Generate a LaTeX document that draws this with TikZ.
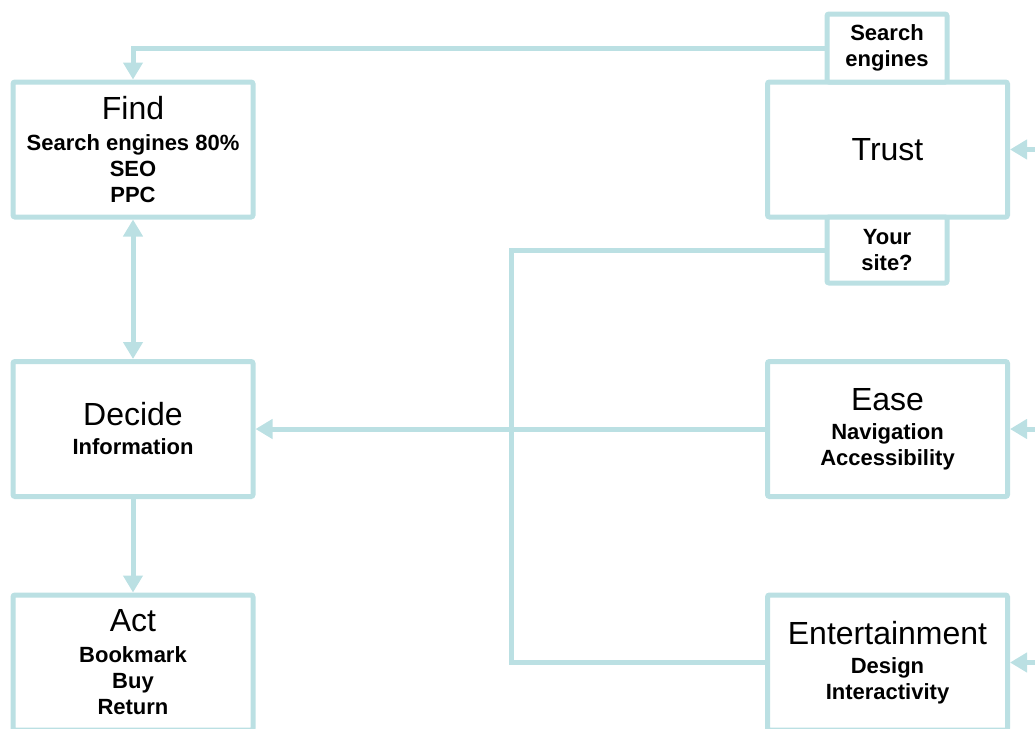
\documentclass[tikz,border=0pt]{standalone}
\usepackage{fontspec}
\setmainfont{Liberation Sans}
\usetikzlibrary{arrows.meta}
\definecolor{boxline}{HTML}{BBE0E3}
\newcommand\ttlfont{\fontsize{32}{36}\selectfont\mdseries}
\newcommand\subfont{\fontsize{22}{26}\selectfont\bfseries}
\tikzset{
  box/.style={draw=boxline, line width=5pt, fill=white, rounded corners=2pt,
    minimum width=240pt, minimum height=135pt, align=center, inner sep=0pt,
    font=\subfont, text=black},
  tabbox/.style={box, minimum width=120pt},
  conn/.style={draw=boxline, line width=5pt, line join=miter},
  arr/.style={conn, -{Triangle[width=19pt,length=17pt]}},
  dblarr/.style={conn, {Triangle[width=19pt,length=17pt]}-{Triangle[width=19pt,length=17pt]}},
}
\begin{document}
\begin{tikzpicture}[x=1pt,y=1pt]
\useasboundingbox (0,0) rectangle (1035,-728);
% connectors drawn first
\coordinate (bus) at (511,-250);
\coordinate (inT) at (1045,-149.5);
\coordinate (inE) at (1045,-429);
\coordinate (inN) at (1045,-662.5);
% boxes
\node[box] (find) at (133,-149.5) {{\ttlfont Find}\\[5pt]Search engines 80\%\\SEO\\PPC};
\node[box] (decide) at (133,-429) {{\ttlfont Decide}\\[3pt]Information};
\node[box] (act) at (133,-662.5) {{\ttlfont Act}\\[5pt]Bookmark\\Buy\\Return};
\node[box] (trust) at (887.5,-149.5) {\ttlfont Trust};
\node[tabbox, minimum height=68pt] (se) at (887,-48) {Search\\engines};
\node[tabbox, minimum height=66pt] (ys) at (887,-250) {Your\\site?};
\node[box] (ease) at (887.5,-429) {{\ttlfont Ease}\\[3pt]Navigation\\Accessibility};
\node[box] (ent) at (887.5,-662.5) {{\ttlfont Entertainment}\\[3pt]Design\\Interactivity};
% connectors
\draw[arr] (se.west) -| (find.north);
\draw[dblarr] (find.south) -- (decide.north);
\draw[arr] (decide.south) -- (act.north);
\draw[conn] (ys.west) -- (bus) |- (ent.west);
\draw[arr] (ease.west) -- (decide.east);
\draw[arr] (inT) -- (trust.east);
\draw[arr] (inE) -- (ease.east);
\draw[arr] (inN) -- (ent.east);
\end{tikzpicture}
\end{document}
